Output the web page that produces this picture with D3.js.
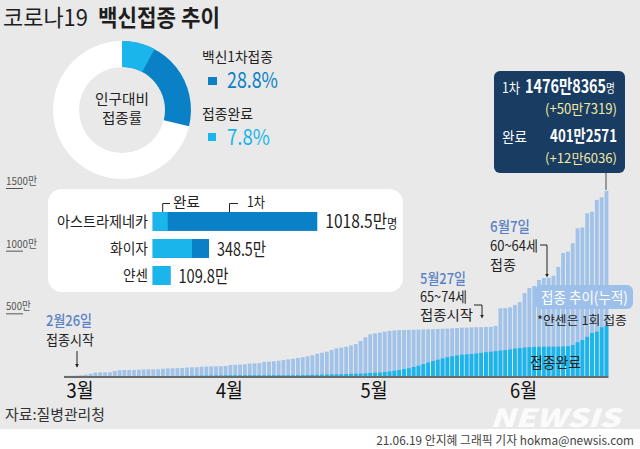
<!DOCTYPE html>
<html><head><meta charset="utf-8">
<script src="https://cdn.jsdelivr.net/npm/d3@7"></script>
<style>
body{margin:0;background:#fff}
svg{display:block}
text{font-family:"Noto Sans CJK KR","Noto Sans",sans-serif}
</style>
</head><body>
<svg id="c" width="640" height="449"></svg>
<script>
// ---------- DATA ----------
const startDay = new Date(2021, 1, 26);
const endDay = new Date(2021, 5, 19);
const dates = d3.timeDay.range(startDay, endDay); // 2/26 .. 6/18

// cumulative first-dose (만명)
const firstDose = [
  1.9, 2.1, 3.6, 6, 10, 18, 27, 29, 29, 30,
  40, 46, 48, 48, 49, 50, 52, 53, 53, 54,
  58, 61, 62, 63, 64, 68, 69, 70, 74, 76,
  77, 77, 78, 80, 88, 90, 91, 94, 99, 101,
  103, 112, 115, 118, 122, 128, 133, 138, 144, 150,
  157, 165, 178, 186, 194, 208, 221, 226, 234, 244,
  255, 280, 309, 333, 340, 346, 354, 360, 363, 366,
  367, 368, 369, 370, 372, 373, 374, 375, 377, 379,
  381, 383, 385, 386, 388, 389, 390, 391, 392, 400,
  540, 542, 548, 567, 590, 662, 702, 718, 766, 782,
  783, 800, 870, 981, 992, 1059, 1179, 1185, 1298, 1311,
  1405, 1426, 1476.8
];
// cumulative completed (만명)
const completed = [
  0, 0, 0, 0, 0, 0, 0, 0, 0, 0,
  0, 0, 0, 0, 0, 0, 0, 0, 0, 0,
  0, 0, 0, 0.5, 1, 1.5, 2, 2.5, 3, 3.5,
  4, 4.5, 5, 5.5, 5.8, 6, 6, 6, 6, 6,
  6, 6.5, 6.5, 6.5, 6.5, 6.5, 6.5, 6.5, 6.5, 7,
  8, 9, 10, 11, 12, 13, 14, 15, 16, 17,
  18, 19, 21, 24, 26, 28, 32, 37, 42, 48,
  55, 62, 72, 82, 95, 108, 120, 130, 140, 150,
  158, 165, 170, 173, 176, 180, 185, 190, 194, 198,
  203, 207, 212, 218, 223, 227, 230, 232, 233, 234,
  234, 234, 235, 236, 238, 247, 270, 287, 313, 343,
  354, 389, 401.3
];
const monthStarts = [new Date(2021,2,1), new Date(2021,3,1), new Date(2021,4,1), new Date(2021,5,1)];
const monthLabels = ["3월", "4월", "5월", "6월"];
const yTicks = [500, 1000, 1500];
const yTickLabels = ["500만", "1000만", "1500만"];

const vaccines = ["아스트라제네카", "화이자", "얀센"];
const vaccineFirst = [1018.5, 348.5, 109.8];
const vaccineDone = [93, 243, 109.8];
const vaccineValueLabels = ["1018.5만", "348.5만", "109.8만"];

const rateNames = ["백신1차접종", "접종완료"];
const rates = [28.8, 7.8];

// ---------- HELPERS ----------
const svg = d3.select("#c");
const BLUE = "#0a80c6", CYAN = "#1ab6eb", LIGHT = "#a2c3e9", NAVY = "#183c62", ANN = "#5a82c5";
// text squeezed horizontally to a target width via a scale transform
function txt(g, x, y, s, o = {}) {
  const gg = g.append("g").attr("transform", `translate(${x},${y})`);
  const t = gg.append("text").attr("x", 0).attr("y", 0).text(s)
    .attr("font-size", o.size || 14).attr("fill", o.fill || "#222")
    .attr("font-weight", o.weight || 400).attr("text-anchor", o.anchor || "start");
  if (o.style) t.attr("font-style", o.style);
  if (o.op) t.attr("opacity", o.op);
  if (o.small) t.append("tspan").attr("font-size", o.small.size).attr("font-weight", 400).text(o.small.text);
  if (o.len) {
    const w = t.node().getComputedTextLength();
    if (w > 0) gg.attr("transform", `translate(${x},${y}) scale(${o.len / w},1)`);
  }
  return t;
}

// background
svg.append("rect").attr("width", 640).attr("height", 429).attr("fill", "#e9e9e9");
svg.append("rect").attr("y", 429).attr("width", 640).attr("height", 20).attr("fill", "#fff");

// title
txt(svg, 3, 26, "코로나19", {size: 23, len: 85, fill: "#1e1e1e"});
txt(svg, 98, 26, "백신접종 추이", {size: 23, weight: 700, len: 122, fill: "#1e1e1e"});

// ---------- DONUT ----------
const dc = svg.append("g").attr("transform", "translate(122,110)");
const ang = d3.scaleLinear().domain([0, 100]).range([0, 2 * Math.PI]);
const arc = d3.arc().innerRadius(43).outerRadius(69);
dc.append("path").attr("d", arc({startAngle: 0, endAngle: 2 * Math.PI})).attr("fill", "#fff");
dc.append("path").attr("d", arc({startAngle: 0, endAngle: ang(rates[0])})).attr("fill", BLUE);
dc.append("path").attr("d", arc({startAngle: 0, endAngle: ang(rates[1])})).attr("fill", CYAN);
txt(dc, 0, -6, "인구대비", {size: 14, anchor: "middle", len: 54});
txt(dc, 0, 13, "접종률", {size: 14, anchor: "middle", len: 40});

// legend
txt(svg, 202, 62, rateNames[0], {size: 14, len: 71});
svg.append("rect").attr("x", 208).attr("y", 77).attr("width", 9).attr("height", 8).attr("fill", BLUE);
txt(svg, 227, 88, rates[0] + "%", {size: 22, fill: BLUE, len: 51});
txt(svg, 202, 119, rateNames[1], {size: 14, len: 51});
svg.append("rect").attr("x", 208).attr("y", 133).attr("width", 8).attr("height", 8).attr("fill", CYAN);
txt(svg, 227, 145, rates[1] + "%", {size: 22, fill: CYAN, len: 43});

// ---------- MAIN BAR CHART ----------
const x = d3.scaleBand().domain(d3.range(dates.length)).range([64.6, 608.4]).paddingInner(0.2).paddingOuter(0);
const y = d3.scaleLinear().domain([0, 1500]).range([376, 188]);
const idxOf = d => d3.timeDay.count(startDay, d);

// y tick labels
yTicks.forEach((v, i) => {
  txt(svg, 6, y(v) - 3, yTickLabels[i], {size: 11, fill: "#555", len: yTickLabels[i].length * 6.2});
  svg.append("line").attr("x1", 6).attr("x2", 23).attr("y1", y(v) + 0.5).attr("y2", y(v) + 0.5)
    .attr("stroke", "#555").attr("stroke-width", 1);
});

const bars = svg.append("g");
bars.selectAll("rect.f").data(firstDose).join("rect").attr("class", "f")
  .attr("x", (d, i) => x(i)).attr("width", x.bandwidth())
  .attr("y", d => y(d)).attr("height", d => y(0) - y(d)).attr("fill", LIGHT);
bars.selectAll("rect.c").data(completed).join("rect").attr("class", "c")
  .attr("x", (d, i) => x(i)).attr("width", x.bandwidth())
  .attr("y", d => y(d)).attr("height", d => y(0) - y(d)).attr("fill", CYAN);
svg.append("line").attr("x1", 64).attr("x2", 608.5).attr("y1", y(0) + 1).attr("y2", y(0) + 1)
  .attr("stroke", "#6a6a6a").attr("stroke-width", 2);

// month labels
monthStarts.forEach((d, i) => {
  txt(svg, x(idxOf(d)) + x.bandwidth() / 2 - 1, 398, monthLabels[i], {size: 20, anchor: "middle", len: 27, fill: "#111"});
});

// ---------- ANNOTATIONS ----------
function arrow(x0, y0, y1) {
  svg.append("line").attr("x1", x0).attr("x2", x0).attr("y1", y0).attr("y2", y1).attr("stroke", "#222").attr("stroke-width", 1);
  svg.append("path").attr("d", `M${x0 - 1.8},${y1 - 3}L${x0},${y1 + 0.5}L${x0 + 1.8},${y1 - 3}Z`).attr("fill", "#222");
}
function bracket(xl, xr, y0, y1) {
  svg.append("path").attr("d", `M${xl},${y0}H${xr}V${y1 - 2}`).attr("fill", "none").attr("stroke", "#222").attr("stroke-width", 1);
  svg.append("path").attr("d", `M${xr - 1.8},${y1 - 3}L${xr},${y1 + 0.5}L${xr + 1.8},${y1 - 3}Z`).attr("fill", "#222");
}
txt(svg, 46, 326, "2월26일", {size: 15, fill: ANN, weight: 500, len: 46});
txt(svg, 46, 345, "접종시작", {size: 14, len: 48});
arrow(77, 351, 367);

txt(svg, 420, 284, "5월27일", {size: 15, fill: ANN, weight: 500, len: 46});
txt(svg, 420, 302, "65~74세", {size: 14, len: 47});
txt(svg, 420, 320, "접종시작", {size: 14, len: 53});
bracket(474, 482, 305, 318);

txt(svg, 490, 232, "6월7일", {size: 15, fill: ANN, weight: 500, len: 40});
txt(svg, 490, 251, "60~64세", {size: 14, len: 48});
txt(svg, 490, 270, "접종", {size: 14, len: 26});
bracket(540, 547, 245, 277);

svg.append("rect").attr("x", 535).attr("y", 285).attr("width", 98).attr("height", 24).attr("rx", 6).attr("fill", "#9dc0ea");
txt(svg, 541, 303, "접종 추이(누적)", {size: 15, fill: "#fff", len: 87});
txt(svg, 537, 325, "*얀센은 1회 접종", {size: 12, len: 90});
txt(svg, 530, 368, "접종완료", {size: 15, len: 51});

// ---------- TOP-RIGHT BOX ----------
svg.append("line").attr("x1", 606).attr("x2", 606).attr("y1", 172).attr("y2", y(firstDose[firstDose.length - 1]) - 1)
  .attr("stroke", "#9a9a9a").attr("stroke-width", 2);
svg.append("rect").attr("x", 494).attr("y", 71).attr("width", 131).attr("height", 102).attr("rx", 6).attr("fill", NAVY);
txt(svg, 502, 93, "1차", {size: 14, fill: "#fff", len: 18});
txt(svg, 525, 93, "1476만8365", {size: 18, fill: "#fff", weight: 700, len: 90, small: {size: 12, text: "명"}});
txt(svg, 617, 114, "(+50만7319)", {size: 14, fill: "#f4e9a2", anchor: "end", len: 72});
txt(svg, 502, 142, "완료", {size: 14, fill: "#fff", len: 25});
txt(svg, 617, 142, "401만2571", {size: 17, fill: "#fff", weight: 700, anchor: "end", len: 67});
txt(svg, 617, 163, "(+12만6036)", {size: 13, fill: "#f4e9a2", anchor: "end", len: 72});

// ---------- VACCINE INSET ----------
svg.append("rect").attr("x", 48).attr("y", 189).attr("width", 355).attr("height", 103).attr("rx", 14).attr("fill", "#fff");
const xh = d3.scaleLinear().domain([0, vaccineFirst[0]]).range([152.7, 317.3]);
const yh = d3.scaleBand().domain(vaccines).range([212, 285]).paddingInner(0.3).paddingOuter(0);
const ig = svg.append("g");
ig.selectAll("rect.f").data(vaccineFirst).join("rect").attr("class", "f")
  .attr("x", xh(0)).attr("y", (d, i) => yh(vaccines[i])).attr("width", d => xh(d) - xh(0)).attr("height", yh.bandwidth()).attr("fill", BLUE);
ig.selectAll("rect.c").data(vaccineDone).join("rect").attr("class", "c")
  .attr("x", xh(0)).attr("y", (d, i) => yh(vaccines[i])).attr("width", d => xh(d) - xh(0)).attr("height", yh.bandwidth()).attr("fill", CYAN);
const nameLen = [91, 38, 25];
const valLen = [72, 49, 50];
vaccines.forEach((v, i) => {
  const cy = yh(v) + yh.bandwidth() / 2;
  txt(ig, 148, cy + 5.5, v, {size: 15, anchor: "end", len: nameLen[i]});
  txt(ig, xh(vaccineFirst[i]) + 8, cy + 7, vaccineValueLabels[i],
      {size: 18, len: valLen[i], fill: "#222", small: i === 0 ? {size: 13, text: "명"} : null});
});
// header brackets
ig.append("path").attr("d", "M170,203.5H162.7V212").attr("fill", "none").attr("stroke", "#222");
txt(ig, 173, 207, "완료", {size: 14, len: 27});
ig.append("path").attr("d", "M238,203.5H229.5V212").attr("fill", "none").attr("stroke", "#222");
txt(ig, 247, 207, "1차", {size: 14, len: 18});

// ---------- FOOTER ----------
txt(svg, 5, 420, "자료:질병관리청", {size: 15, fill: "#333", len: 100});
txt(svg, 490, 427, "NEWSIS", {size: 25, weight: 900, style: "italic", fill: "#fff", len: 130, op: 0.85});
txt(svg, 634, 445, "21.06.19 안지혜 그래픽 기자 hokma@newsis.com", {size: 12, fill: "#444", anchor: "end", len: 258});
</script>
</body></html>
